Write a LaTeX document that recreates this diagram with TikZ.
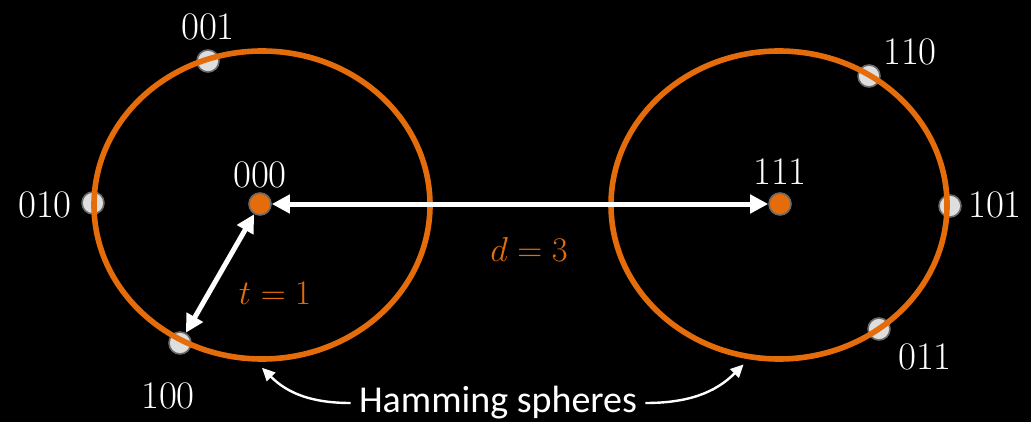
\documentclass[tikz,border=0pt]{standalone}
\usepackage{fontspec}
\usepackage{amsmath}
\usetikzlibrary{arrows.meta,shapes.geometric}
\newfontfamily\labelfont{Carlito}
\definecolor{sphereorange}{RGB}{228,108,10}
\definecolor{dotgray}{RGB}{222,222,222}
\definecolor{rimgray}{RGB}{105,105,105}

\begin{document}
\begin{tikzpicture}[
    x=0.5pt, y=-0.5pt,
    sphere/.style={
        ellipse, draw=sphereorange, line width=2.8pt, inner sep=0pt,
        minimum width=168pt, minimum height=154pt
    },
    % received words (gray) and codewords (orange) ──
    word/.style={circle, draw=rimgray, line width=0.8pt, fill=dotgray,
                 inner sep=0pt, minimum size=11pt},
    codeword/.style={word, fill=sphereorange},
    bits/.style={text=white, font=\fontsize{19.5}{22}\selectfont, inner sep=0pt},
    dist/.style={text=sphereorange, font=\fontsize{18}{20}\selectfont, inner sep=0pt},
    arrow/.style={{Triangle[length=9pt,width=9pt]}-{Triangle[length=9pt,width=9pt]},
                  line width=2.5pt, white},
    thinarrow/.style={-{Triangle[length=6.5pt,width=6pt]}, line width=1.2pt, white},
]
    \fill[black] (0,0) rectangle (1031,422);
    \useasboundingbox (0,0) rectangle (1031,422);

    % words at distance 1 (under the sphere outline)
    \foreach \w/\px/\py/\lx/\ly in {001/208/61/208/27, 010/93/203/45/205,
                                   100/180/343/168/396, 110/869/76/910/52,
                                   101/950/206/995/205, 011/879/329/925/357}{
        \node[word] (n\w) at (\px,\py) {};
        \node[bits] at (\lx,\ly) {\w};
    }

    % the two Hamming spheres
    \node[sphere] (sphereL) at (262,205) {};
    \node[sphere] (sphereR) at (779,205) {};

    % codewords
    \node[codeword] (n000) at (260,204) {};
    \node[codeword] (n111) at (780,204) {};
    \node[bits] at (260,175) {000};
    \node[bits] at (780,172) {111};

    % distances
    \draw[arrow] (n000) -- (n111);
    \draw[arrow] (n000) -- (n100);
    \node[dist] (tlbl) at (275,293) {$t=1$};
    \node[dist] (dlbl) at (529,249) {$d=3$};

    % caption with pointers
    \node[text=white, font=\labelfont\fontsize{19}{22}\selectfont, inner sep=4pt]
        (ham) at (498,403) {Hamming spheres};
    \draw[thinarrow] (ham.west) to[out=180, in=-45] ([yshift=-3pt]sphereL.south);
    \draw[thinarrow] (ham.east) to[out=0, in=-135] ([yshift=-3pt]sphereR.-103);
\end{tikzpicture}
\end{document}
